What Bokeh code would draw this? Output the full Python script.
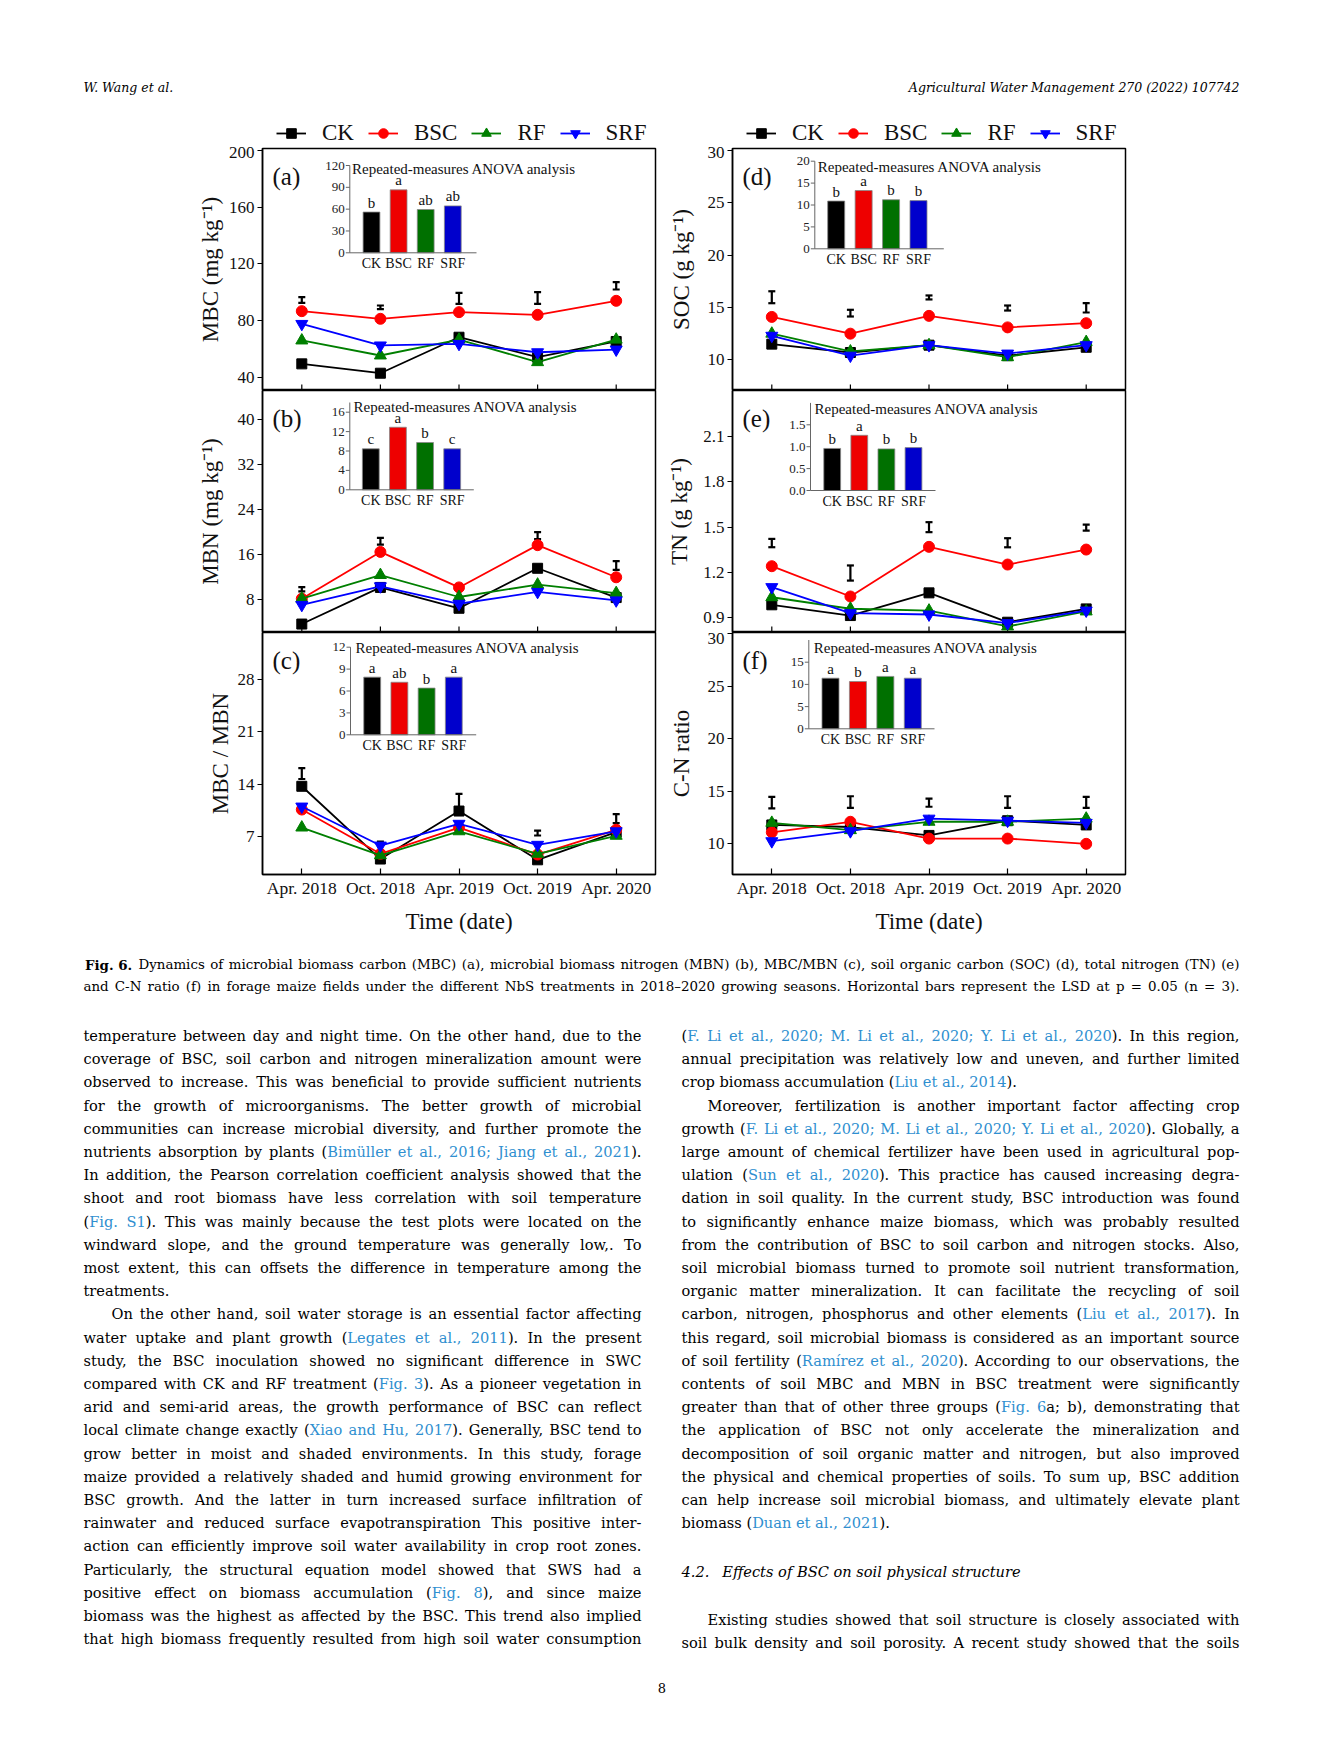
from bokeh.plotting import figure
from bokeh.models import (Range1d, FixedTicker, Legend, LegendItem, Label, Whisker,
                          TeeHead, ColumnDataSource, CustomJS)
from bokeh.layouts import column, row
from bokeh.document import Document
from bokeh.events import DocumentReady
from bokeh.embed import file_html
from bokeh.resources import INLINE
from bokeh.core.properties import value

# ------------------------------------------------------------------ data
DATES = ["Apr. 2018", "Oct. 2018", "Apr. 2019", "Oct. 2019", "Apr. 2020"]
TREATMENTS = ["CK", "BSC", "RF", "SRF"]

MBC_CK = [49.4, 42.8, 68.2, 54.1, 65.2]
MBC_BSC = [86.6, 81.2, 85.9, 84.0, 93.9]
MBC_RF = [65.9, 55.3, 66.5, 50.6, 66.5]
MBC_SRF = [77.6, 62.4, 63.5, 57.6, 59.5]
MBC_LSD_MID = [94.5, 89.3, 95.6, 95.9, 104.5]
MBC_LSD = [4.0, 2.6, 7.8, 8.2, 5.2]
MBC_MEAN = [56.0, 86.5, 59.5, 64.5]
MBC_LETTERS = ["b", "a", "ab", "ab"]

MBN_CK = [3.7, 10.2, 6.5, 13.6, 8.4]
MBN_BSC = [8.2, 16.5, 10.2, 17.7, 12.0]
MBN_RF = [8.2, 12.4, 8.5, 10.7, 9.2]
MBN_SRF = [7.1, 10.4, 7.3, 9.4, 7.9]
MBN_LSD_MID = [9.87, 18.4, 10.37, 19.4, 14.1]
MBN_LSD = [0.76, 1.2, 0.7, 1.24, 1.54]
MBN_MEAN = [8.45, 12.9, 9.75, 8.45]
MBN_LETTERS = ["c", "a", "b", "c"]

CN_MB_CK = [13.7, 4.0, 10.4, 3.9, 7.6]
CN_MB_BSC = [10.6, 4.7, 8.2, 4.6, 7.9]
CN_MB_RF = [8.2, 4.5, 7.7, 4.7, 7.1]
CN_MB_SRF = [11.0, 5.8, 8.7, 5.9, 7.7]
CN_MB_LSD_MID = [15.4, 6.1, 11.46, 7.47, 9.4]
CN_MB_LSD = [1.46, 0.48, 2.44, 0.66, 1.2]
CN_MB_MEAN = [7.9, 7.2, 6.4, 7.9]
CN_MB_LETTERS = ["a", "ab", "b", "a"]

SOC_CK = [11.5, 10.7, 11.4, 10.4, 11.2]
SOC_BSC = [14.1, 12.5, 14.2, 13.1, 13.5]
SOC_RF = [12.5, 10.8, 11.4, 10.25, 11.7]
SOC_SRF = [12.3, 10.4, 11.4, 10.6, 11.4]
SOC_LSD_MID = [15.98, 14.46, 15.96, 14.95, 14.97]
SOC_LSD = [1.14, 0.64, 0.38, 0.48, 0.9]
SOC_MEAN = [10.9, 13.3, 11.2, 11.0]
SOC_LETTERS = ["b", "a", "b", "b"]

TN_CK = [0.986, 0.915, 1.065, 0.871, 0.959]
TN_BSC = [1.241, 1.041, 1.369, 1.252, 1.351]
TN_RF = [1.036, 0.960, 0.948, 0.843, 0.942]
TN_SRF = [1.103, 0.931, 0.922, 0.865, 0.948]
TN_LSD_MID = [1.394, 1.196, 1.499, 1.396, 1.496]
TN_LSD = [0.055, 0.10, 0.066, 0.06, 0.04]
TN_MEAN = [0.96, 1.26, 0.95, 0.98]
TN_LETTERS = ["b", "a", "b", "b"]

CNR_CK = [11.8, 11.6, 10.8, 12.2, 11.8]
CNR_BSC = [11.1, 12.1, 10.5, 10.5, 10.0]
CNR_RF = [12.0, 11.3, 12.1, 12.1, 12.4]
CNR_SRF = [10.25, 11.2, 12.4, 12.2, 12.0]
CNR_LSD_MID = [13.92, 13.98, 13.92, 13.98, 13.95]
CNR_LSD = [1.1, 1.1, 0.78, 1.1, 1.04]
CNR_MEAN = [11.4, 10.65, 11.8, 11.4]
CNR_LETTERS = ["a", "b", "a", "a"]

TICKS_A = [40, 80, 120, 160, 200]
TICKS_B = [8, 16, 24, 32, 40]
TICKS_C = [7, 14, 21, 28]
TICKS_D = [10, 15, 20, 25, 30]
TICKS_E = [0.9, 1.2, 1.5, 1.8, 2.1]
TICKS_F = [10, 15, 20, 25, 30]

ITICKS_A = [0, 30, 60, 90, 120]
ITICKS_B = [0, 4, 8, 12, 16]
ITICKS_C = [0, 3, 6, 9, 12]
ITICKS_D = [0, 5, 10, 15, 20]
ITICKS_E = [0.0, 0.5, 1.0, 1.5]
ITICKS_F = [0, 5, 10, 15]

HEADER_LEFT = "W. Wang et al."
HEADER_RIGHT = "Agricultural Water Management 270 (2022) 107742"
CAPTION_BOLD = "Fig. 6."
CAPTION_1 = ("Dynamics of microbial biomass carbon (MBC) (a), microbial biomass nitrogen (MBN) (b), "
             "MBC/MBN (c), soil organic carbon (SOC) (d), total nitrogen (TN) (e)")
CAPTION_2 = ("and C-N ratio (f) in forage maize fields under the different NbS treatments in 2018\u20132020 "
             "growing seasons. Horizontal bars represent the LSD at p = 0.05 (n = 3).")

LEFT_LINES = [
    "temperature between day and night time. On the other hand, due to the",
    "coverage of BSC, soil carbon and nitrogen mineralization amount were",
    "observed to increase. This was beneficial to provide sufficient nutrients",
    "for the growth of microorganisms. The better growth of microbial",
    "communities can increase microbial diversity, and further promote the",
    "nutrients absorption by plants ({Bim\u00fcller et al., 2016; Jiang et al., 2021}).",
    "In addition, the Pearson correlation coefficient analysis showed that the",
    "shoot and root biomass have less correlation with soil temperature",
    "({Fig. S1}). This was mainly because the test plots were located on the",
    "windward slope, and the ground temperature was generally low,. To",
    "most extent, this can offsets the difference in temperature among the",
    "treatments.",
    "On the other hand, soil water storage is an essential factor affecting",
    "water uptake and plant growth ({Legates et al., 2011}). In the present",
    "study, the BSC inoculation showed no significant difference in SWC",
    "compared with CK and RF treatment ({Fig. 3}). As a pioneer vegetation in",
    "arid and semi-arid areas, the growth performance of BSC can reflect",
    "local climate change exactly ({Xiao and Hu, 2017}). Generally, BSC tend to",
    "grow better in moist and shaded environments. In this study, forage",
    "maize provided a relatively shaded and humid growing environment for",
    "BSC growth. And the latter in turn increased surface infiltration of",
    "rainwater and reduced surface evapotranspiration This positive inter-",
    "action can efficiently improve soil water availability in crop root zones.",
    "Particularly, the structural equation model showed that SWS had a",
    "positive effect on biomass accumulation ({Fig. 8}), and since maize",
    "biomass was the highest as affected by the BSC. This trend also implied",
    "that high biomass frequently resulted from high soil water consumption",
]
RIGHT_LINES = [
    "({F. Li et al., 2020; M. Li et al., 2020; Y. Li et al., 2020}). In this region,",
    "annual precipitation was relatively low and uneven, and further limited",
    "crop biomass accumulation ({Liu et al., 2014}).",
    "Moreover, fertilization is another important factor affecting crop",
    "growth ({F. Li et al., 2020; M. Li et al., 2020; Y. Li et al., 2020}). Globally, a",
    "large amount of chemical fertilizer have been used in agricultural pop-",
    "ulation ({Sun et al., 2020}). This practice has caused increasing degra-",
    "dation in soil quality. In the current study, BSC introduction was found",
    "to significantly enhance maize biomass, which was probably resulted",
    "from the contribution of BSC to soil carbon and nitrogen stocks. Also,",
    "soil microbial biomass turned to promote soil nutrient transformation,",
    "organic matter mineralization. It can facilitate the recycling of soil",
    "carbon, nitrogen, phosphorus and other elements ({Liu et al., 2017}). In",
    "this regard, soil microbial biomass is considered as an important source",
    "of soil fertility ({Ram\u00edrez et al., 2020}). According to our observations, the",
    "contents of soil MBC and MBN in BSC treatment were significantly",
    "greater than that of other three groups ({Fig. 6}a; b), demonstrating that",
    "the application of BSC not only accelerate the mineralization and",
    "decomposition of soil organic matter and nitrogen, but also improved",
    "the physical and chemical properties of soils. To sum up, BSC addition",
    "can help increase soil microbial biomass, and ultimately elevate plant",
    "biomass ({Duan et al., 2021}).",
]
HEADING_NUM = "4.2."
HEADING_TEXT = "Effects of BSC on soil physical structure"
TAIL_LINES = [
    "Existing studies showed that soil structure is closely associated with",
    "soil bulk density and soil porosity. A recent study showed that the soils",
]
PAGE_NUMBER = "8"

# ------------------------------------------------------------------ style / layout
LINE_COLORS = ["#000000", "#ff0000", "#007f00", "#0000ff"]
BAR_COLORS = ["#000000", "#ee0000", "#007000", "#0000cc"]
MARKERS = ["square", "circle", "triangle", "inverted_triangle"]
MSIZES = [10, 11, 12, 12]
SERIF = "Liberation Serif"
BODY = "DejaVu Serif"
BODY_SIZE = 14.6
CAP_SIZE = 13.4
INK = "#000000"
LINK = "#2f8fd0"

PAGE_W = 1315
HEADER_H = 146
FRAME_W, FRAME_H = 393, 242
COL_LEFT = [262, 732]
ROW_TOP = [148, 390, 632]
COL_W = [660, 655]

INSET_GEOM = {
    "a": dict(ax=349.3, c1=371.0, c4=452.3, ar=476.0, y0=252.3, yv=120, ypx=165.0, top=120, title=(351.5, 168.0)),
    "b": dict(ax=349.3, c1=370.3, c4=451.7, ar=473.3, y0=489.3, yv=16, ypx=411.7, top=18, title=(353.0, 406.7)),
    "c": dict(ax=350.0, c1=371.7, c4=453.3, ar=475.7, y0=734.3, yv=12, ypx=646.7, top=12, title=(355.0, 647.0)),
    "d": dict(ax=814.3, c1=835.7, c4=918.0, ar=943.3, y0=248.3, yv=20, ypx=160.7, top=20, title=(817.3, 166.0)),
    "e": dict(ax=810.0, c1=831.7, c4=913.0, ar=935.0, y0=490.0, yv=1.5, ypx=424.3, top=2.0, title=(814.0, 408.3)),
    "f": dict(ax=808.3, c1=830.0, c4=912.3, ar=934.0, y0=728.3, yv=15, ypx=661.7, top=20, title=(813.3, 647.3)),
}

PANELS = [
    dict(key="a", col=0, row=0, yr=(30.6, 201.4), ticks=TICKS_A, ylabel="MBC (mg kg\u207b\u00b9)", als=3,
         series=[MBC_CK, MBC_BSC, MBC_RF, MBC_SRF], mid=MBC_LSD_MID, lsd=MBC_LSD,
         mean=MBC_MEAN, letters=MBC_LETTERS, iticks=ITICKS_A, ifmt="{:g}"),
    dict(key="b", col=0, row=1, yr=(2.2, 45.15), ticks=TICKS_B, ylabel="MBN (mg kg\u207b\u00b9)", als=12,
         series=[MBN_CK, MBN_BSC, MBN_RF, MBN_SRF], mid=MBN_LSD_MID, lsd=MBN_LSD,
         mean=MBN_MEAN, letters=MBN_LETTERS, iticks=ITICKS_B, ifmt="{:g}"),
    dict(key="c", col=0, row=2, yr=(1.94, 34.2), ticks=TICKS_C, ylabel="MBC / MBN", als=2,
         series=[CN_MB_CK, CN_MB_BSC, CN_MB_RF, CN_MB_SRF], mid=CN_MB_LSD_MID, lsd=CN_MB_LSD,
         mean=CN_MB_MEAN, letters=CN_MB_LETTERS, iticks=ITICKS_C, ifmt="{:g}"),
    dict(key="d", col=1, row=0, yr=(7.07, 30.19), ticks=TICKS_D, ylabel="SOC (g kg\u207b\u00b9)", als=11,
         series=[SOC_CK, SOC_BSC, SOC_RF, SOC_SRF], mid=SOC_LSD_MID, lsd=SOC_LSD,
         mean=SOC_MEAN, letters=SOC_LETTERS, iticks=ITICKS_D, ifmt="{:g}"),
    dict(key="e", col=1, row=1, yr=(0.803, 2.402), ticks=TICKS_E, ylabel="TN (g kg\u207b\u00b9)", als=8,
         series=[TN_CK, TN_BSC, TN_RF, TN_SRF], mid=TN_LSD_MID, lsd=TN_LSD,
         mean=TN_MEAN, letters=TN_LETTERS, iticks=ITICKS_E, ifmt="{:.1f}"),
    dict(key="f", col=1, row=2, yr=(7.08, 30.12), ticks=TICKS_F, ylabel="C-N ratio", als=11,
         series=[CNR_CK, CNR_BSC, CNR_RF, CNR_SRF], mid=CNR_LSD_MID, lsd=CNR_LSD,
         mean=CNR_MEAN, letters=CNR_LETTERS, iticks=ITICKS_F, ifmt="{:g}"),
]


def draw_inset(p, fl, ft, g, means, letters, iticks, ifmt):
    kx = 3.0 / (g["c4"] - g["c1"])
    ky = g["yv"] / (g["y0"] - g["ypx"])
    xs = 1 - (g["c1"] - fl) * kx
    ys = -(ft + FRAME_H - g["y0"]) * ky
    p.extra_x_ranges = {"ix": Range1d(xs, xs + FRAME_W * kx)}
    p.extra_y_ranges = {"iy": Range1d(ys, ys + FRAME_H * ky)}

    def X(px):
        return xs + (px - fl) * kx

    def Y(py):
        return ys + (ft + FRAME_H - py) * ky

    rn = dict(x_range_name="ix", y_range_name="iy")
    cats = [1, 2, 3, 4]
    p.vbar(x=cats, top=means, width=0.62, fill_color=BAR_COLORS, line_color="#888888",
           line_width=0.8, **rn)
    ax, ar = X(g["ax"]), X(g["ar"])
    p.segment(x0=[ax, ax], y0=[0, 0], x1=[ax, ar], y1=[g["top"], 0],
              line_color="#666666", line_width=1, **rn)
    n = len(iticks)
    tl = 4 * kx
    p.segment(x0=[ax - tl] * n, y0=iticks, x1=[ax] * n, y1=iticks,
              line_color="#666666", line_width=1, **rn)
    p.text(x=[X(g["ax"] - 5)] * n, y=iticks, text=[ifmt.format(t) for t in iticks],
           text_align="right", text_baseline="middle", text_font=value(SERIF),
           text_font_size="13px", text_color="#222222", **rn)
    p.text(x=cats, y=[Y(g["y0"] + 11)] * 4, text=TREATMENTS, text_align="center",
           text_baseline="middle", text_font=value(SERIF), text_font_size="14px",
           text_color="#111111", **rn)
    p.text(x=cats, y=[m + 1.5 * ky for m in means], text=letters, text_align="center",
           text_baseline="bottom", text_font=value(SERIF), text_font_size="15px",
           text_color="#111111", **rn)
    p.text(x=[X(g["title"][0])], y=[Y(g["title"][1])], text=["Repeated-measures ANOVA analysis"],
           text_align="left", text_baseline="middle", text_font=value(SERIF),
           text_font_size="15px", text_color="#111111", **rn)


def make_panel(cfg):
    col, r = cfg["col"], cfg["row"]
    width = COL_W[col]
    x_left = 0 if col == 0 else COL_W[0]
    mbl = COL_LEFT[col] - x_left
    mbr = width - mbl - FRAME_W
    top = ROW_TOP[0] - HEADER_H if r == 0 else 0
    bottom = 70 if r == 2 else 0
    ylo, yhi = cfg["yr"]
    p = figure(width=width, height=FRAME_H + top + bottom,
               x_range=Range1d(0.5, 5.5), y_range=Range1d(ylo, yhi),
               min_border_left=mbl, min_border_right=mbr, min_border_top=top,
               min_border_bottom=bottom, toolbar_location=None, tools="",
               output_backend="svg",
               x_axis_location=("below" if r == 2 else None))
    p.grid.visible = False
    p.outline_line_color = "black"
    p.outline_line_width = 1.5
    p.background_fill_color = "white"

    x = [1, 2, 3, 4, 5]
    if r == 2:
        xa = p.xaxis[0]
        xa.ticker = FixedTicker(ticks=x)
        xa.major_label_overrides = {i + 1: d for i, d in enumerate(DATES)}
        xa.major_tick_in = 6
        xa.major_tick_out = 0
        xa.minor_tick_line_color = None
        xa.axis_line_width = 1.5
        xa.major_tick_line_width = 1.2
        xa.major_label_text_font = SERIF
        xa.major_label_text_font_size = "17.5px"
        xa.major_label_text_color = "#111111"
        xa.major_label_standoff = 3
        xa.axis_label = "Time (date)"
        xa.axis_label_text_font = SERIF
        xa.axis_label_text_font_size = "23px"
        xa.axis_label_text_font_style = "normal"
        xa.axis_label_text_color = "#111111"
        xa.axis_label_standoff = 8
    else:
        # inward date ticks on the shared bottom edge
        tick_len = 6 * (yhi - ylo) / FRAME_H
        p.segment(x0=x, x1=x, y0=[ylo] * 5, y1=[ylo + tick_len] * 5,
                  line_color="black", line_width=1.2)

    ya = p.yaxis[0]
    ya.ticker = FixedTicker(ticks=cfg["ticks"])
    ya.major_tick_in = 0
    ya.major_tick_out = 5
    ya.minor_tick_line_color = None
    ya.axis_line_width = 1.5
    ya.major_tick_line_width = 1.2
    ya.major_label_text_font = SERIF
    ya.major_label_text_font_size = "17px"
    ya.major_label_text_color = "#111111"
    ya.major_label_standoff = 3
    ya.axis_label = cfg["ylabel"]
    ya.axis_label_text_font = SERIF
    ya.axis_label_text_font_size = "23px"
    ya.axis_label_text_font_style = "normal"
    ya.axis_label_text_color = "#111111"
    ya.axis_label_standoff = cfg["als"]

    draw_inset(p, COL_LEFT[col], ROW_TOP[r], INSET_GEOM[cfg["key"]], cfg["mean"],
               cfg["letters"], cfg["iticks"], cfg["ifmt"])

    src = ColumnDataSource(dict(x=x,
                                lower=[m - l / 2 for m, l in zip(cfg["mid"], cfg["lsd"])],
                                upper=[m + l / 2 for m, l in zip(cfg["mid"], cfg["lsd"])]))
    p.add_layout(Whisker(source=src, base="x", lower="lower", upper="upper",
                         line_color="black", line_width=2.2,
                         upper_head=TeeHead(size=7, line_width=2.2, line_color="black"),
                         lower_head=TeeHead(size=7, line_width=2.2, line_color="black")))

    for ys, c, m, s in zip(cfg["series"], LINE_COLORS, MARKERS, MSIZES):
        p.line(x, ys, line_color=c, line_width=1.8)
        p.scatter(x, ys, marker=m, size=s, fill_color=c, line_color=c)

    p.add_layout(Label(x=10, y=FRAME_H - 28, x_units="screen", y_units="screen",
                       text="(%s)" % cfg["key"], text_font=SERIF, text_font_size="25px",
                       text_baseline="middle", text_color="#111111"))
    return p


panels = {cfg["key"]: make_panel(cfg) for cfg in PANELS}


# ------------------------------------------------------------------ page text
def text_fig(height, y_top):
    p = figure(width=PAGE_W, height=height, x_range=Range1d(0, PAGE_W),
               y_range=Range1d(y_top + height, y_top), x_axis_location=None,
               y_axis_location=None, min_border=0, toolbar_location=None, tools="",
               output_backend="svg")
    p.outline_line_color = None
    p.grid.visible = False
    return p


header = text_fig(HEADER_H, 0)
header.text(x=[83], y=[87], text=[HEADER_LEFT], text_align="left", text_baseline="middle",
            text_font=value(BODY), text_font_size="12.5px", text_font_style="italic",
            text_color=INK)
header.text(x=[1239], y=[87], text=[HEADER_RIGHT], text_align="right", text_baseline="middle",
            text_font=value(BODY), text_font_size="12.5px", text_font_style="italic",
            text_color=INK)

# legends (one above each column of panels); key glyphs come from off-page proxies
NAN = float("nan")
for lx in (COL_LEFT[0] + 14, COL_LEFT[1] + 14):
    items = []
    for name, c, m, s in zip(TREATMENTS, LINE_COLORS, MARKERS, MSIZES):
        lr = header.line(x=[NAN, NAN], y=[NAN, NAN], line_color=c, line_width=1.8)
        sr = header.scatter(x=[NAN], y=[NAN], marker=m, size=s, fill_color=c, line_color=c)
        items.append(LegendItem(label=name, renderers=[lr, sr]))
    header.add_layout(Legend(items=items, location=(lx, 0), orientation="horizontal",
                             border_line_color=None, background_fill_alpha=0, padding=0,
                             margin=0, spacing=14, label_standoff=16, glyph_width=30,
                             glyph_height=24, label_height=24, label_text_font=SERIF,
                             label_text_font_size="23px", label_text_color="#111111"))

BODY_TOP = ROW_TOP[2] + FRAME_H + 70
BODY_H = 1756 - BODY_TOP
body = text_fig(BODY_H, BODY_TOP)


def tokens(line):
    if "{" in line:
        pre, rest = line.split("{", 1)
        blue, post = rest.split("}", 1)
        segs = [(pre, INK), (blue, LINK), (post, INK)]
    else:
        segs = [(line, INK)]
    out, gap, first = [], False, True
    for text, color in segs:
        if not text:
            continue
        for k, w in enumerate(text.split(" ")):
            if k > 0:
                gap = True
            if w == "":
                continue
            out.append((w, color, gap and not first))
            gap, first = False, False
    return out


def build_source(lines):
    """lines: list of (text, y, x0, x1, justify). One row per token; x refined in browser."""
    d = dict(x=[], y=[], t=[], c=[], line=[], x0=[], x1=[], just=[], gap=[])
    for li, (text, y, x0, x1, just) in enumerate(lines):
        toks = tokens(text)
        total = sum(len(t[0]) for t in toks) + sum(1 for t in toks if t[2])
        pos = 0
        for w, c, g in toks:
            if g:
                pos += 1
            frac = pos / max(total, 1)
            d["x"].append(x0 + (x1 - x0) * frac if just else x0 + pos * 7.4)
            d["y"].append(y)
            d["t"].append(w)
            d["c"].append(c)
            d["line"].append(li)
            d["x0"].append(x0)
            d["x1"].append(x1)
            d["just"].append(1 if just else 0)
            d["gap"].append(1 if g else 0)
            pos += len(w)
    return ColumnDataSource(d)


LX0, LX1, RX0, RX1 = 83, 641, 681, 1239
Y0, DY = 1035.0, 23.2
LEFT_FINAL = {11}
RIGHT_FINAL = {2, 21}
LEFT_INDENT = {12: 28}
RIGHT_INDENT = {3: 26}

body_lines = []
for i, ln in enumerate(LEFT_LINES):
    body_lines.append((ln, Y0 + DY * i, LX0 + LEFT_INDENT.get(i, 0), LX1, i not in LEFT_FINAL))
for i, ln in enumerate(RIGHT_LINES):
    body_lines.append((ln, Y0 + DY * i, RX0 + RIGHT_INDENT.get(i, 0), RX1, i not in RIGHT_FINAL))
body_lines.append((TAIL_LINES[0], 1618.5, RX0 + 26, RX1, True))
body_lines.append((TAIL_LINES[1], 1641.5, RX0, RX1, True))
cap_lines = [(CAPTION_1, 964, 138, 1239, True), (CAPTION_2, 985.5, 83, 1239, True)]

body_src = build_source(body_lines)
cap_src = build_source(cap_lines)
for src, size in ((body_src, BODY_SIZE), (cap_src, CAP_SIZE)):
    body.text(x="x", y="y", text="t", text_color="c", source=src, text_align="left",
              text_baseline="middle", text_font=value(BODY), text_font_size="%spx" % size)

body.text(x=[84.5], y=[964], text=[CAPTION_BOLD], text_align="left", text_baseline="middle",
          text_font=value(BODY), text_font_size="%spx" % CAP_SIZE, text_font_style="bold",
          text_color=INK)
body.text(x=[681, 721.8], y=[1571, 1571], text=[HEADING_NUM, HEADING_TEXT], text_align="left",
          text_baseline="middle", text_font=value(BODY), text_font_size="%spx" % BODY_SIZE,
          text_font_style="italic", text_color=INK)
body.text(x=[661.5], y=[1687], text=[PAGE_NUMBER], text_align="center", text_baseline="middle",
          text_font=value(BODY), text_font_size="13px", text_color=INK)

justify_js = CustomJS(args=dict(srcs=[body_src, cap_src],
                                fonts=["%spx 'DejaVu Serif'" % BODY_SIZE,
                                       "%spx 'DejaVu Serif'" % CAP_SIZE]), code="""
const ctx = document.createElement('canvas').getContext('2d');
for (let k = 0; k < srcs.length; k++) {
  const s = srcs[k];
  ctx.font = fonts[k];
  const d = s.data;
  const n = d.t.length;
  const xs = Array.from(d.x);
  const space = ctx.measureText(' ').width;
  let i = 0;
  while (i < n) {
    let j = i;
    while (j < n && d.line[j] === d.line[i]) j++;
    const w = [];
    let total = 0, gaps = 0;
    for (let t = i; t < j; t++) {
      const ww = ctx.measureText(d.t[t]).width;
      w.push(ww); total += ww;
      if (t > i && d.gap[t]) gaps++;
    }
    let sp = space;
    if (d.just[i] && gaps > 0) sp = Math.max((d.x1[i] - d.x0[i] - total) / gaps, 1.5);
    let x = d.x0[i];
    for (let t = i; t < j; t++) {
      if (t > i && d.gap[t]) x += sp;
      xs[t] = x;
      x += w[t - i];
    }
    i = j;
  }
  s.data = Object.assign({}, d, {x: xs});
}
""")

layout = column(header,
                row(column(panels["a"], panels["b"], panels["c"]),
                    column(panels["d"], panels["e"], panels["f"])),
                body)

doc = Document()
doc.add_root(layout)
doc.js_on_event(DocumentReady, justify_js)

open("out.html", "w").write(file_html(doc, INLINE, title="Fig. 6"))
